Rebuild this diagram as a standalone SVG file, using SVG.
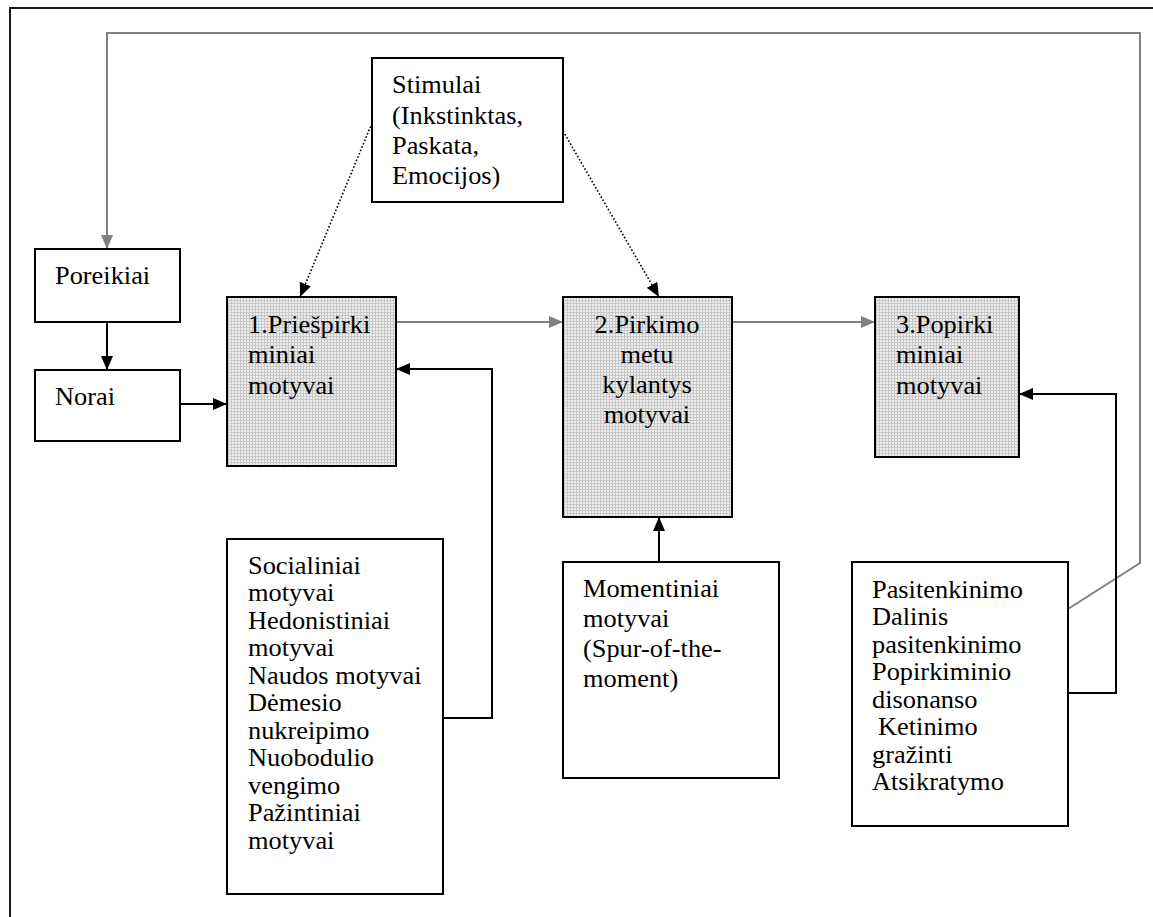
<svg xmlns="http://www.w3.org/2000/svg" width="1153" height="917" viewBox="0 0 1153 917">
  <style>
    .box { fill: #ffffff; stroke: #000000; stroke-width: 2; }
    .shade { fill: url(#dots); stroke: #000000; stroke-width: 2; }
    .frame { fill: none; stroke: #1a1a1a; stroke-width: 2; }
    .link { fill: none; stroke: #000000; stroke-width: 2; }
    .grey { fill: none; stroke: #808080; stroke-width: 2; }
    .dot { fill: none; stroke: #000000; stroke-width: 1.6; stroke-dasharray: 1.6 2; }
    .t { font-family: "Liberation Serif", "Times New Roman", serif; font-size: 25px; fill: #000000;
         transform-box: fill-box; transform-origin: 0 0; transform: scaleX(1.055); }
    .c { text-anchor: middle; transform-origin: 50% 0; }
  </style>
  <defs>
    <pattern id="dots" width="3" height="3" patternUnits="userSpaceOnUse">
      <rect width="3" height="3" fill="#eeeeee"/>
      <rect width="3" height="1" fill="#c8c8c8"/>
      <rect width="1" height="3" fill="#c8c8c8"/>
    </pattern>
    <marker id="ab" viewBox="0 0 14 12" refX="14" refY="6" markerWidth="14" markerHeight="12" markerUnits="userSpaceOnUse" orient="auto">
      <path d="M0,0 L14,6 L0,12 Z" fill="#000000"/>
    </marker>
    <marker id="ag" viewBox="0 0 14 12" refX="14" refY="6" markerWidth="14" markerHeight="12" markerUnits="userSpaceOnUse" orient="auto">
      <path d="M0,0 L14,6 L0,12 Z" fill="#808080"/>
    </marker>
  </defs>

  <rect width="1153" height="917" fill="#ffffff"/>

  <!-- page frame (top and left edges only fall inside the sheet) -->
  <path class="frame" d="M10,917 L10,8 L1153,8"/>

  <!-- connectors -->
  <g id="connectors">
    <path class="grey" d="M1068,609 L1140,563 L1140,33 L107,33 L107,249" marker-end="url(#ag)"/>
    <line class="dot" x1="372" y1="123" x2="300" y2="297" marker-end="url(#ab)"/>
    <line class="dot" x1="563" y1="131" x2="659" y2="297" marker-end="url(#ab)"/>
    <line class="link" x1="107" y1="322" x2="107" y2="370" marker-end="url(#ab)"/>
    <line class="link" x1="180" y1="404" x2="227" y2="404" marker-end="url(#ab)"/>
    <line class="grey" x1="396" y1="322" x2="563" y2="322" marker-end="url(#ag)"/>
    <line class="grey" x1="732" y1="322" x2="875" y2="322" marker-end="url(#ag)"/>
    <path class="link" d="M443,718 L492,718 L492,369 L396,369" marker-end="url(#ab)"/>
    <line class="link" x1="659" y1="562" x2="659" y2="517" marker-end="url(#ab)"/>
    <path class="link" d="M1068,693 L1116,693 L1116,394 L1019,394" marker-end="url(#ab)"/>
  </g>

  <g id="stimulai">
    <rect class="box" x="372" y="58" width="191" height="144"/>
    <text class="t" x="392" y="93">Stimulai</text>
    <text class="t" x="392" y="124">(Inkstinktas,</text>
    <text class="t" x="392" y="154">Paskata,</text>
    <text class="t" x="392" y="184">Emocijos)</text>
  </g>

  <g id="poreikiai">
    <rect class="box" x="35" y="249" width="145" height="73"/>
    <text class="t" x="55" y="284">Poreikiai</text>
  </g>

  <g id="norai">
    <rect class="box" x="35" y="370" width="145" height="71"/>
    <text class="t" x="55" y="405">Norai</text>
  </g>

  <g id="priespirkiminiai">
    <rect class="shade" x="227" y="297" width="169" height="169"/>
    <text class="t" x="248" y="333">1.Priešpirki</text>
    <text class="t" x="248" y="363">miniai</text>
    <text class="t" x="248" y="394">motyvai</text>
  </g>

  <g id="pirkimo-metu">
    <rect class="shade" x="563" y="297" width="169" height="220"/>
    <text class="t c" x="647" y="333">2.Pirkimo</text>
    <text class="t c" x="647" y="363">metu</text>
    <text class="t c" x="647" y="393">kylantys</text>
    <text class="t c" x="647" y="423">motyvai</text>
  </g>

  <g id="popirkiminiai">
    <rect class="shade" x="875" y="297" width="144" height="160"/>
    <text class="t" x="896" y="333">3.Popirki</text>
    <text class="t" x="896" y="363">miniai</text>
    <text class="t" x="896" y="394">motyvai</text>
  </g>

  <g id="socialiniai">
    <rect class="box" x="227" y="539" width="216" height="355"/>
    <text class="t" x="248" y="574">Socialiniai</text>
    <text class="t" x="248" y="601.5">motyvai</text>
    <text class="t" x="248" y="629">Hedonistiniai</text>
    <text class="t" x="248" y="656.5">motyvai</text>
    <text class="t" x="248" y="684">Naudos motyvai</text>
    <text class="t" x="248" y="711.5">Dėmesio</text>
    <text class="t" x="248" y="739">nukreipimo</text>
    <text class="t" x="248" y="766.5">Nuobodulio</text>
    <text class="t" x="248" y="794">vengimo</text>
    <text class="t" x="248" y="821.5">Pažintiniai</text>
    <text class="t" x="248" y="849">motyvai</text>
  </g>

  <g id="momentiniai">
    <rect class="box" x="563" y="562" width="216" height="216"/>
    <text class="t" x="583" y="597">Momentiniai</text>
    <text class="t" x="583" y="627">motyvai</text>
    <text class="t" x="583" y="657">(Spur-of-the-</text>
    <text class="t" x="583" y="687">moment)</text>
  </g>

  <g id="pasitenkinimo">
    <rect class="box" x="852" y="562" width="216" height="264"/>
    <text class="t" x="872" y="598">Pasitenkinimo</text>
    <text class="t" x="872" y="625.5">Dalinis</text>
    <text class="t" x="872" y="653">pasitenkinimo</text>
    <text class="t" x="872" y="680.5">Popirkiminio</text>
    <text class="t" x="872" y="708">disonanso</text>
    <text class="t" x="878" y="735.5">Ketinimo</text>
    <text class="t" x="872" y="763">gražinti</text>
    <text class="t" x="872" y="790.5">Atsikratymo</text>
  </g>
</svg>
